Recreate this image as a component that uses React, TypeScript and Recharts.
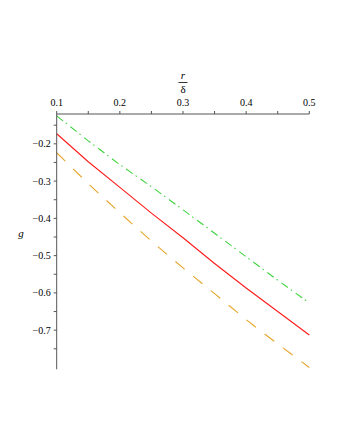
import { LineChart, Line, XAxis, YAxis } from 'recharts';

// r/δ sample points and the three g curves
const rValues = [0.1, 0.15, 0.2, 0.25, 0.3, 0.35, 0.4, 0.45, 0.5];
const gGreen = [-0.125, -0.192, -0.256, -0.315, -0.377, -0.44, -0.503, -0.566, -0.627];
const gRed = [-0.173, -0.248, -0.317, -0.386, -0.452, -0.521, -0.587, -0.65, -0.713];
const gOrange = [-0.224, -0.307, -0.385, -0.461, -0.533, -0.602, -0.672, -0.737, -0.8];

const xTicks = [0.1, 0.15, 0.2, 0.25, 0.3, 0.35, 0.4, 0.45, 0.5];
const xMajor = [0.1, 0.2, 0.3, 0.4, 0.5];
const yTicks = [-0.15, -0.2, -0.25, -0.3, -0.35, -0.4, -0.45, -0.5, -0.55, -0.6, -0.65, -0.7, -0.75];
const yMajor = [-0.2, -0.3, -0.4, -0.5, -0.6, -0.7];

const data = rValues.map((r, i) => ({ r, green: gGreen[i], red: gRed[i], orange: gOrange[i] }));

const W = 340;
const H = 440;
const PLOT_LEFT = 56.7;
const PLOT_TOP = 114;
const PLOT_RIGHT = 309.3;
const PLOT_BOTTOM = 369.3;
const X_AXIS_H = 20;
const Y_AXIS_W = 40;

const FONT = '"Liberation Serif", "DejaVu Serif", serif';
const AXIS = '#555';

const fmt = (v: number) => (v < 0 ? '\u2212' : '') + Math.abs(v).toFixed(1);
const isMajor = (v: number, list: number[]) => list.some((m) => Math.abs(m - v) < 1e-9);

function XTick(props: any) {
  const { x, payload } = props;
  if (!isMajor(payload.value, xMajor)) return null;
  return (
    <text x={x} y={PLOT_TOP - 8} textAnchor="middle" fontSize={10} fontFamily={FONT} fill="#000">
      {fmt(payload.value)}
    </text>
  );
}

function YTick(props: any) {
  const { y, payload } = props;
  if (!isMajor(payload.value, yMajor)) return null;
  return (
    <text x={PLOT_LEFT - 6} y={y} dy={3.5} textAnchor="end" fontSize={10} fontFamily={FONT} fill="#000">
      {fmt(payload.value)}
    </text>
  );
}

function XTitle(props: any) {
  const vb = props.viewBox || {};
  const cx = vb.x + vb.width / 2;
  return (
    <g fontFamily={FONT} fill="#000">
      <text x={cx} y={PLOT_TOP - 35} textAnchor="middle" fontSize={11} fontStyle="italic">r</text>
      <line x1={cx - 4.5} x2={cx + 4.5} y1={PLOT_TOP - 31.5} y2={PLOT_TOP - 31.5} stroke="#000" strokeWidth={0.8} />
      <text x={cx} y={PLOT_TOP - 21} textAnchor="middle" fontSize={11}>δ</text>
    </g>
  );
}

function YTitle() {
  return (
    <text x={21} y={237} textAnchor="middle" fontSize={11} fontStyle="italic" fontFamily={FONT} fill="#000">
      g
    </text>
  );
}

export default function App() {
  return (
    <div style={{ position: 'absolute', left: 0, top: 0, width: W, height: H, background: '#fff' }}>
      <LineChart
        width={W}
        height={H}
        data={data}
        margin={{
          top: PLOT_TOP - X_AXIS_H,
          left: PLOT_LEFT - Y_AXIS_W,
          right: W - PLOT_RIGHT,
          bottom: H - PLOT_BOTTOM,
        }}
      >
        <XAxis
          dataKey="r"
          type="number"
          orientation="top"
          domain={[0.1, 0.5]}
          ticks={xTicks}
          height={X_AXIS_H}
          tickSize={3}
          tickMargin={5}
          stroke={AXIS}
          tickLine={{ stroke: AXIS }}
          tick={XTick}
          interval={0}
          label={{ content: XTitle }}
        />
        <YAxis
          type="number"
          domain={[-0.805, -0.12]}
          allowDataOverflow
          ticks={yTicks}
          width={Y_AXIS_W}
          tickSize={3}
          tickMargin={3}
          stroke={AXIS}
          tickLine={{ stroke: AXIS }}
          tick={YTick}
          interval={0}
          label={{ content: YTitle }}
        />
        <Line dataKey="green" type="linear" stroke="#3fd43f" strokeWidth={1.1} strokeDasharray="8 3.5 1.5 4.5" dot={false} isAnimationActive={false} />
        <Line dataKey="red" type="linear" stroke="#ff1a1a" strokeWidth={1.1} dot={false} isAnimationActive={false} />
        <Line dataKey="orange" type="linear" stroke="#e6a52a" strokeWidth={1.1} strokeDasharray="12 11" dot={false} isAnimationActive={false} />
      </LineChart>
    </div>
  );
}
